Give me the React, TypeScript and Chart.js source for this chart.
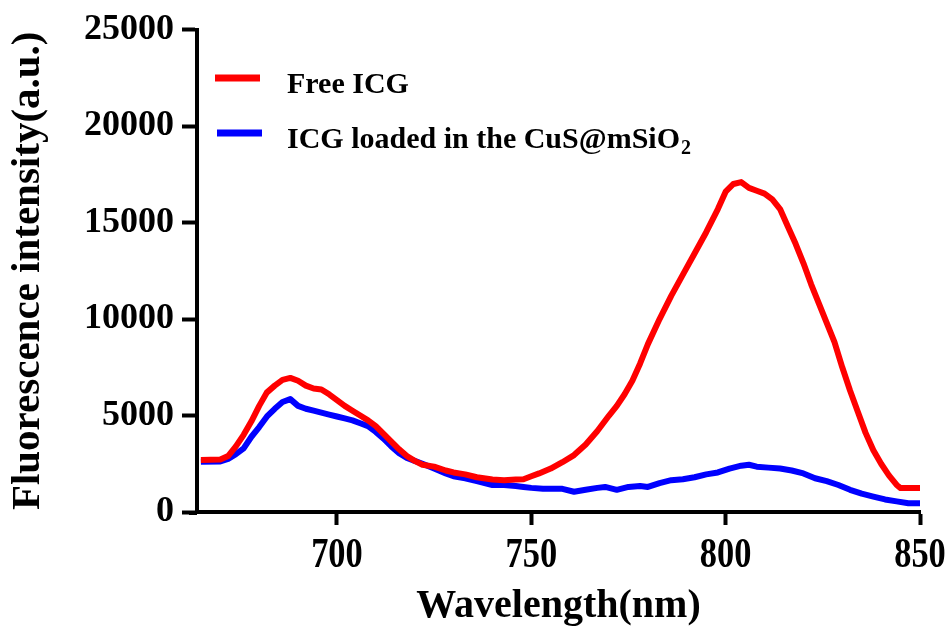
import React, { useEffect, useRef } from "react";
import { Chart, registerables } from "chart.js";

Chart.register(...registerables);

const freeWavelength = [665, 670, 672, 674, 676, 678, 680, 682, 684, 686, 688, 690, 692, 694, 696, 698, 700, 702, 704, 706, 708, 710, 712, 714, 716, 718, 720, 722, 725, 728, 730, 733, 736, 740, 743, 746, 748, 750, 752, 755, 758, 761, 764, 767, 770, 772, 774, 776, 778, 780, 783, 786, 789, 792, 795, 798, 800, 802, 804, 806, 808, 810, 812, 814, 816, 818, 820, 822, 824, 826, 828, 830, 832, 834, 836, 838, 840, 842, 844, 845, 847, 850];
const freeIntensity = [2700, 2720, 2900, 3400, 4000, 4700, 5500, 6200, 6550, 6850, 6950, 6800, 6550, 6400, 6350, 6100, 5800, 5500, 5250, 5000, 4750, 4450, 4050, 3650, 3250, 2900, 2650, 2450, 2350, 2150, 2050, 1950, 1800, 1680, 1650, 1680, 1700, 1850, 2000, 2250, 2580, 2950, 3500, 4200, 5000, 5500, 6100, 6800, 7700, 8700, 10000, 11200, 12300, 13400, 14500, 15700, 16600, 17000, 17100, 16800, 16650, 16500, 16200, 15700, 14800, 13900, 12900, 11800, 10800, 9800, 8800, 7500, 6300, 5200, 4100, 3200, 2500, 1900, 1400, 1240, 1240, 1240];

const loadedWavelength = [665, 670, 672, 674, 676, 678, 680, 682, 684, 686, 688, 690, 692, 694, 696, 698, 700, 702, 704, 706, 708, 710, 712, 714, 716, 718, 720, 722, 725, 728, 730, 733, 736, 740, 743, 746, 748, 750, 753, 756, 758, 761, 764, 767, 769, 772, 775, 778, 780, 783, 786, 789, 792, 795, 798, 801, 804, 806, 808, 811, 814, 817, 820, 823, 826, 829, 832, 835, 838, 841, 844, 847, 850];
const loadedIntensity = [2600, 2620, 2750, 3000, 3300, 3900, 4400, 4950, 5350, 5700, 5850, 5500, 5350, 5250, 5150, 5050, 4950, 4850, 4750, 4600, 4450, 4150, 3800, 3400, 3050, 2800, 2650, 2500, 2250, 2000, 1850, 1750, 1600, 1400, 1400, 1350, 1300, 1250, 1200, 1200, 1200, 1050, 1150, 1250, 1300, 1150, 1300, 1350, 1300, 1500, 1650, 1700, 1800, 1950, 2050, 2250, 2400, 2450, 2350, 2300, 2250, 2150, 2000, 1750, 1600, 1400, 1150, 950, 800, 650, 550, 450, 450];

const seriesLabels = ["Free ICG", "ICG loaded in the CuS@mSiO\u2082"];
const seriesColors = ["#ff0000", "#0000ff"];
const xTickValues = [700, 750, 800, 850];
const yTickValues = [0, 5000, 10000, 15000, 20000, 25000];
const xTitle = "Wavelength(nm)";
const yTitle = "Fluorescence intensity(a.u.)";

const FONT = '"Liberation Serif", "Times New Roman", serif';

const textPlugin = {
  id: "customText",
  afterDraw(chart: any) {
    const ctx = chart.ctx;
    const xs = chart.scales.x;
    const area = chart.chartArea;
    ctx.save();
    ctx.fillStyle = "#000";
    ctx.textAlign = "center";
    ctx.textBaseline = "alphabetic";
    ctx.font = `bold 43px ${FONT}`;
    xTickValues.forEach((v) => {
      const px = xs.getPixelForValue(v);
      ctx.save();
      ctx.translate(px, area.bottom + 55);
      ctx.scale(0.8, 1);
      ctx.fillText(String(v), 0, 0);
      ctx.restore();
    });
    ctx.font = `bold 40px ${FONT}`;
    ctx.fillText(xTitle, (area.left + area.right) / 2, area.bottom + 105);

    // small extension of the x axis line to the left of the y axis
    ctx.strokeStyle = "#000";
    ctx.lineWidth = 4;
    ctx.beginPath();
    ctx.moveTo(area.left - 8, area.bottom + 1);
    ctx.lineTo(area.left, area.bottom + 1);
    ctx.stroke();

    // legend
    const legendX = 215;
    const rows = [78, 133];
    chart.data.datasets.forEach((ds: any, i: number) => {
      const y = rows[i];
      ctx.strokeStyle = ds.borderColor;
      ctx.lineWidth = 7;
      ctx.lineCap = "butt";
      ctx.beginPath();
      ctx.moveTo(legendX + (i === 1 ? 2 : 0), y);
      ctx.lineTo(legendX + 45 + (i === 1 ? 2 : 0), y);
      ctx.stroke();
      ctx.textAlign = "left";
      ctx.fillStyle = "#000";
      ctx.font = `bold 30px ${FONT}`;
      const parts = String(ds.label).split("\u2082");
      let tx = 287;
      const by = y + 15;
      ctx.fillText(parts[0], tx, by);
      if (parts.length > 1) {
        tx += ctx.measureText(parts[0]).width;
        ctx.font = `bold 20px ${FONT}`;
        ctx.fillText("2", tx + 1, by + 6);
      }
    });
    ctx.restore();
  },
};

export default function App() {
  const canvasRef = useRef<HTMLCanvasElement | null>(null);

  useEffect(() => {
    if (!canvasRef.current) return;
    const chart = new Chart(canvasRef.current, {
      type: "line",
      data: {
        datasets: [
          {
            label: seriesLabels[0],
            data: freeWavelength.map((x, i) => ({ x, y: freeIntensity[i] })),
            borderColor: seriesColors[0],
            backgroundColor: seriesColors[0],
            borderWidth: 6,
            pointRadius: 0,
            tension: 0,
            borderJoinStyle: "round",
          },
          {
            label: seriesLabels[1],
            data: loadedWavelength.map((x, i) => ({ x, y: loadedIntensity[i] })),
            borderColor: seriesColors[1],
            backgroundColor: seriesColors[1],
            borderWidth: 6,
            pointRadius: 0,
            tension: 0,
            borderJoinStyle: "round",
          },
        ],
      },
      options: {
        animation: false,
        responsive: false,
        layout: { padding: { top: 27, right: 32, left: 0, bottom: 0 } },
        plugins: {
          legend: { display: false },
          tooltip: { enabled: false },
        },
        scales: {
          x: {
            type: "linear",
            min: 664,
            max: 850,
            afterBuildTicks: (scale: any) => {
              scale.ticks = xTickValues.map((v) => ({ value: v }));
            },
            afterFit: (scale: any) => {
              scale.height = 116;
            },
            ticks: { display: false },
            border: { display: true, color: "#000", width: 4 },
            grid: {
              display: true,
              drawOnChartArea: false,
              drawTicks: true,
              tickLength: 13,
              tickWidth: 4,
              tickColor: "#000",
            },
          },
          y: {
            min: 0,
            max: 25000,
            afterBuildTicks: (scale: any) => {
              scale.ticks = yTickValues.map((v) => ({ value: v }));
            },
            afterFit: (scale: any) => {
              scale.width = 197;
            },
            ticks: {
              color: "#000",
              padding: 8,
              font: { family: FONT, size: 36, weight: "bold" },
              callback: (v: any) => String(v),
            },
            border: { display: true, color: "#000", width: 4 },
            grid: {
              display: true,
              drawOnChartArea: false,
              drawTicks: true,
              tickLength: 15,
              tickWidth: 4,
              tickColor: "#000",
            },
            title: {
              display: true,
              text: yTitle,
              color: "#000",
              padding: { top: 4, bottom: 0 },
              font: { family: FONT, size: 41, weight: "bold" },
            },
          },
        },
      },
      plugins: [textPlugin],
    });
    return () => chart.destroy();
  }, []);

  return (
    <div style={{ position: "absolute", left: 0, top: 0, width: 952, height: 628, background: "#fff" }}>
      <canvas ref={canvasRef} width={952} height={628} />
    </div>
  );
}
